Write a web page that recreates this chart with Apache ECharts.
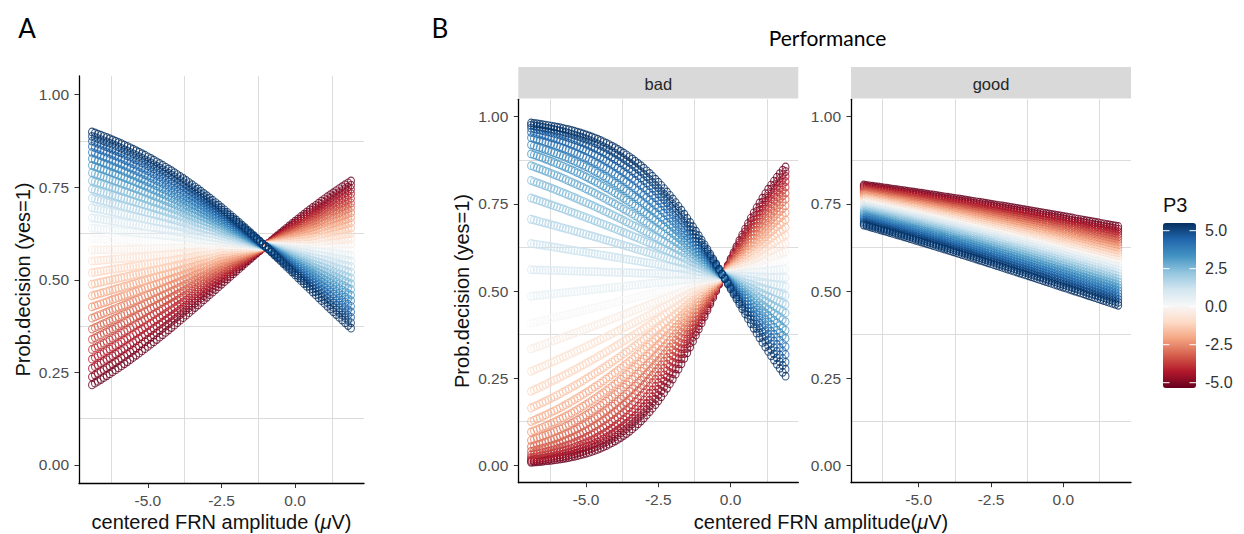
<!DOCTYPE html>
<html>
<head>
<meta charset="utf-8">
<script src="https://cdn.jsdelivr.net/npm/echarts@6/dist/echarts.min.js"></script>
<style>
  html, body { margin: 0; padding: 0; background: #fff; }
  #chart { width: 1244px; height: 534px; }
</style>
</head>
<body>
<div id="chart"></div>
<script>
// Centered FRN amplitude (µV) at which the model predictions are drawn
const frnValues = [
  -6.9, -6.8, -6.7, -6.6, -6.5, -6.4, -6.3, -6.2, -6.1, -6.0,
  -5.9, -5.8, -5.7, -5.6, -5.5, -5.4, -5.3, -5.2, -5.1, -5.0,
  -4.9, -4.8, -4.7, -4.6, -4.5, -4.4, -4.3, -4.2, -4.1, -4.0,
  -3.9, -3.8, -3.7, -3.6, -3.5, -3.4, -3.3, -3.2, -3.1, -3.0,
  -2.9, -2.8, -2.7, -2.6, -2.5, -2.4, -2.3, -2.2, -2.1, -2.0,
  -1.9, -1.8, -1.7, -1.6, -1.5, -1.4, -1.3, -1.2, -1.1, -1.0,
  -0.9, -0.8, -0.7, -0.6, -0.5, -0.4, -0.3, -0.2, -0.1, 0.0,
  0.1, 0.2, 0.3, 0.4, 0.5, 0.6, 0.7, 0.8, 0.9, 1.0,
  1.1, 1.2, 1.3, 1.4, 1.5, 1.6, 1.7, 1.8, 1.9
];

// P3 amplitude levels (one curve per level)
const p3Levels = [
  -5.00, -4.64, -4.29, -3.93, -3.57, -3.21, -2.86, -2.50, -2.14, -1.79,
  -1.43, -1.07, -0.71, -0.36, 0.00, 0.36, 0.71, 1.07, 1.43, 1.79,
  2.14, 2.50, 2.86, 3.21, 3.57, 3.93, 4.29, 4.64, 5.00
];

// Logistic model coefficients: [intercept, FRN, P3, FRN x P3]
const coefOverall = [0.3535, -0.01375, -0.0603, -0.05911];
const coefBad = [0.1985, 0.0832, -0.0347, -0.1318];
const coefGood = [0.4785, -0.09065, -0.0871, -0.00369];

// Axis ticks and grid lines
const frnTicks = [-5, -2.5, 0];
const frnGridLines = [-6.25, -3.75, -1.25, 1.25];
const probTicks = [0, 0.25, 0.5, 0.75, 1];
const probGridLines = [0.125, 0.375, 0.625, 0.875];
const p3Ticks = [5, 2.5, 0, -2.5, -5];

const facetNames = ['bad', 'good'];

// ---------------------------------------------------------------
function predict(c, frn, p3) {
  const eta = c[0] + c[1] * frn + c[2] * p3 + c[3] * frn * p3;
  return 1 / (1 + Math.exp(-eta));
}
function panelData(c) {
  const rows = [];
  p3Levels.forEach(p3 => {
    frnValues.forEach(f => rows.push([f, +predict(c, f, p3).toFixed(4), p3]));
  });
  return rows;
}

const FONT = '"Liberation Sans", Arial, Helvetica, sans-serif';
const HEAD_FONT = 'Lato, "Open Sans", sans-serif';
const rdbu = ['#67001f', '#b2182b', '#d6604d', '#f4a582', '#fddbc7', '#f7f7f7',
              '#d1e5f0', '#92c5de', '#4393c3', '#2166ac', '#053061'];
// hollow circle drawn as a ring so the colour scale fills the outline
const ring = 'path://M0,-10A10,10 0 1,1 0,10A10,10 0 1,1 0,-10ZM0,-7.3A7.3,7.3 0 1,0 0,7.3A7.3,7.3 0 1,0 0,-7.3Z';

const grids = [
  { left: 79, top: 76, width: 285, height: 407.5 },
  { left: 518.3, top: 99.3, width: 280, height: 383.4 },
  { left: 851, top: 99.3, width: 280, height: 383.4 }
];
const xRange = [-7.34, 2.34];
const yRange = [-0.05, 1.05];
const axisText = { color: '#4d4d4d', fontSize: 15.5, fontFamily: FONT };
const gridLineStyle = { color: '#dcdcdc', width: 1 };

const xAxes = [], yAxes = [];
grids.forEach((g, i) => {
  xAxes.push({
    type: 'value', gridIndex: i, min: xRange[0], max: xRange[1], position: 'bottom',
    axisLine: { show: true, onZero: false, lineStyle: { color: '#000', width: 1.3 } },
    axisTick: { show: true, length: 4.5, customValues: frnTicks, lineStyle: { color: '#333', width: 1 } },
    axisLabel: Object.assign({ customValues: frnTicks, formatter: v => v.toFixed(1), margin: 9 }, axisText),
    splitLine: { show: false }
  });
  xAxes.push({
    type: 'value', gridIndex: i, min: xRange[0], max: xRange[1], position: 'top',
    axisLine: { show: false }, axisLabel: { show: false },
    axisTick: { show: false, customValues: frnGridLines },
    splitLine: { show: true, lineStyle: gridLineStyle }
  });
  yAxes.push({
    type: 'value', gridIndex: i, min: yRange[0], max: yRange[1], position: 'left',
    axisLine: { show: true, onZero: false, lineStyle: { color: '#000', width: 1.3 } },
    axisTick: { show: true, length: 4.5, customValues: probTicks, lineStyle: { color: '#333', width: 1 } },
    axisLabel: Object.assign({ customValues: probTicks, formatter: v => v.toFixed(2), margin: 10 }, axisText),
    splitLine: { show: false }
  });
  yAxes.push({
    type: 'value', gridIndex: i, min: yRange[0], max: yRange[1], position: 'right',
    axisLine: { show: false }, axisLabel: { show: false },
    axisTick: { show: false, customValues: probGridLines },
    splitLine: { show: true, lineStyle: gridLineStyle }
  });
});

const series = [coefOverall, coefBad, coefGood].map((c, i) => ({
  type: 'scatter',
  xAxisIndex: 2 * i,
  yAxisIndex: 2 * i,
  data: panelData(c),
  symbol: ring,
  symbolSize: [7.8, 8.8],
  progressive: 0,
  silent: true,
  z: 3
}));

// facet strips and texts
const graphics = [];
[1, 2].forEach((gi, k) => {
  const g = grids[gi];
  graphics.push({
    type: 'rect', shape: { x: g.left, y: 67, width: g.width, height: 31.5 },
    style: { fill: '#d9d9d9' }, silent: true
  });
  graphics.push({
    type: 'text', x: g.left + g.width / 2, y: 83.5,
    style: { text: facetNames[k], fontSize: 16.5, fontFamily: FONT, fill: '#262626', align: 'center', verticalAlign: 'middle' }
  });
});

function title(text, x, y, rot) {
  return {
    type: 'text', x: x, y: y, rotation: rot || 0,
    style: {
      text: text, align: 'center', verticalAlign: 'middle',
      rich: {
        n: { fontSize: 20, fontFamily: FONT, fill: '#111' },
        i: { fontSize: 20, fontFamily: FONT, fill: '#111', fontStyle: 'italic' }
      }
    }
  };
}
graphics.push(title('{n|Prob.decision (yes=1)}', 22.5, 279.5, Math.PI / 2));
graphics.push(title('{n|Prob.decision (yes=1)}', 462, 291, Math.PI / 2));
graphics.push(title('{n|centered FRN amplitude (}{i|μ}{n|V)}', 221.5, 522));
graphics.push(title('{n|centered FRN amplitude(}{i|μ}{n|V)}', 821, 522));

graphics.push({ type: 'text', x: 27, y: 28, style: { text: 'A', fontSize: 26, fontFamily: HEAD_FONT, fill: '#000', align: 'center', verticalAlign: 'middle' } });
graphics.push({ type: 'text', x: 440, y: 28, style: { text: 'B', fontSize: 26, fontFamily: HEAD_FONT, fill: '#000', align: 'center', verticalAlign: 'middle' } });
graphics.push({ type: 'text', x: 827.5, y: 37, style: { text: 'Performance', fontSize: 21, fontFamily: HEAD_FONT, fill: '#000', align: 'center', verticalAlign: 'middle' } });

// colour bar legend: title, tick labels and white tick marks
const barLeft = 1163, barWidth = 33, tickTop = 230.7, tickBottom = 382.7;
graphics.push({ type: 'text', x: 1163, y: 205, style: { text: 'P3', fontSize: 20, fontFamily: FONT, fill: '#111', align: 'left', verticalAlign: 'middle' } });
p3Ticks.forEach(v => {
  const y = tickTop + (5 - v) / 10 * (tickBottom - tickTop);
  graphics.push({ type: 'text', x: 1205, y: y, style: { text: v.toFixed(1), fontSize: 16, fontFamily: FONT, fill: '#333', align: 'left', verticalAlign: 'middle' } });
  graphics.push({ type: 'line', z: 100, shape: { x1: barLeft, y1: y, x2: barLeft + 6.5, y2: y }, style: { stroke: '#fff', lineWidth: 1 } });
  graphics.push({ type: 'line', z: 100, shape: { x1: barLeft + barWidth - 6.5, y1: y, x2: barLeft + barWidth, y2: y }, style: { stroke: '#fff', lineWidth: 1 } });
});

const chart = echarts.init(document.getElementById('chart'), null, { renderer: 'svg' });
chart.setOption({
  animation: false,
  backgroundColor: '#fff',
  grid: grids.map(g => Object.assign({ containLabel: false, outerBoundsMode: 'none' }, g)),
  xAxis: xAxes,
  yAxis: yAxes,
  visualMap: {
    type: 'continuous', min: -5, max: 5, dimension: 2, seriesIndex: [0, 1, 2],
    inRange: { color: rdbu }, calculable: false, hoverLink: false,
    left: barLeft, top: 223, itemWidth: barWidth, itemHeight: 165, padding: 0,
    text: null, orient: 'vertical'
  },
  graphic: { elements: graphics },
  series: series
});
</script>
</body>
</html>
